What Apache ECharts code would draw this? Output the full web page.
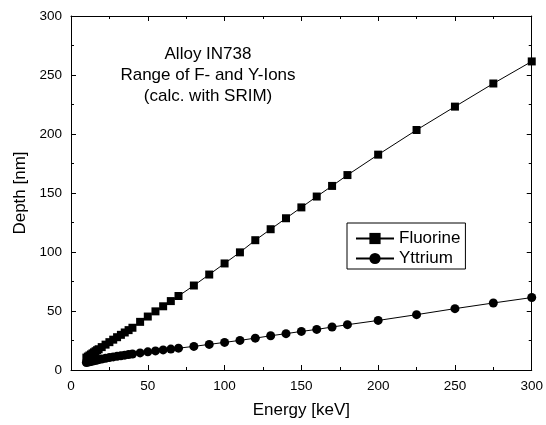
<!DOCTYPE html>
<html>
<head>
<meta charset="utf-8">
<script src="https://cdn.jsdelivr.net/npm/echarts@6/dist/echarts.min.js"></script>
<style>
  html, body { margin: 0; padding: 0; background: #fff; }
  #chart { width: 546px; height: 425px; }
</style>
</head>
<body>
<div id="chart"></div>
<script>
// Ion energies (keV) used in the SRIM range tables
const energy = [10, 11, 12, 13, 14, 15, 16, 17, 18, 20, 22.5, 25, 27.5, 30, 32.5, 35, 37.5, 40,
  45, 50, 55, 60, 65, 70, 80, 90, 100, 110, 120, 130, 140, 150, 160, 170, 180, 200, 225, 250, 275, 300];

// Projected range (nm) of fluorine ions
const fluorineDepth = [10.5, 11.4, 12.3, 13.2, 14.1, 15.0, 15.9, 16.8, 17.6, 19.4, 21.5, 23.6, 25.7, 27.8, 29.8, 31.8, 33.8, 35.8,
  40.8, 45.3, 49.7, 54.0, 58.4, 62.7, 71.6, 80.9, 90.3, 99.7, 110.0, 119.3, 128.6, 137.8, 147.0, 156.0, 165.2, 182.5, 203.4, 223.2, 242.8, 261.5];

// Projected range (nm) of yttrium ions
const yttriumDepth = [6.4, 6.7, 7.0, 7.3, 7.6, 7.9, 8.2, 8.5, 8.8, 9.3, 9.9, 10.5, 11.1, 11.6, 12.1, 12.6, 13.1, 13.6,
  14.5, 15.4, 16.2, 17.0, 17.7, 18.5, 20.0, 21.7, 23.4, 25.1, 27.0, 29.0, 30.8, 32.7, 34.4, 36.4, 38.4, 42.0, 46.9, 52.0, 56.8, 61.4];

const seriesNames = ['Fluorine', 'Yttrium'];
const noteLines = ['Alloy IN738', 'Range of F- and Y-Ions', '(calc. with SRIM)'];

const FONT = 'Liberation Sans, Arial, sans-serif';

const pair = (xs, ys) => xs.map((x, i) => [x, ys[i]]);

const chart = echarts.init(document.getElementById('chart'), null, { renderer: 'canvas' });

// Shared look of all four frame axes: ticks pointing inward, one minor tick between majors
const axisCommon = {
  type: 'value', min: 0, max: 300, interval: 50,
  axisLine: { show: true, onZero: false, lineStyle: { color: '#000', width: 1 } },
  axisTick: { show: true, inside: true, length: 5, lineStyle: { color: '#000' } },
  minorTick: { show: true, splitNumber: 2, length: 3, lineStyle: { color: '#000' } },
  splitLine: { show: false },
  minorSplitLine: { show: false }
};

const labelStyle = { fontSize: 13.5, color: '#000', margin: 9, fontFamily: FONT };
const nameStyle = { fontSize: 17, color: '#000', fontFamily: FONT };

chart.setOption({
  animation: false,
  backgroundColor: '#fff',
  textStyle: { fontFamily: FONT, color: '#000' },
  grid: { left: 71, right: 10, top: 16, bottom: 55, containLabel: false },
  xAxis: [
    Object.assign({}, axisCommon, {
      position: 'bottom',
      name: 'Energy [keV]', nameLocation: 'middle', nameGap: 32,
      nameTextStyle: nameStyle,
      axisLabel: labelStyle
    }),
    Object.assign({}, axisCommon, { position: 'top', axisLabel: { show: false } })
  ],
  yAxis: [
    Object.assign({}, axisCommon, {
      position: 'left',
      name: 'Depth [nm]', nameLocation: 'middle', nameGap: 42,
      nameTextStyle: nameStyle,
      axisLabel: labelStyle
    }),
    Object.assign({}, axisCommon, { position: 'right', axisLabel: { show: false } })
  ],
  legend: {
    data: seriesNames,
    orient: 'vertical',
    left: 347, top: 223,
    padding: [7, 5, 2, 8],
    itemGap: 3,
    itemWidth: 38, itemHeight: 14,
    borderColor: '#000', borderWidth: 1, borderRadius: 0,
    backgroundColor: '#fff',
    textStyle: { fontSize: 17, lineHeight: 14, color: '#000', fontFamily: FONT }
  },
  series: [
    {
      name: seriesNames[0], type: 'line',
      data: pair(energy, fluorineDepth),
      symbol: 'rect', symbolSize: 8,
      lineStyle: { color: '#000', width: 1 },
      itemStyle: { color: '#000' },
      z: 3
    },
    {
      name: seriesNames[1], type: 'line',
      data: pair(energy, yttriumDepth),
      symbol: 'circle', symbolSize: 9,
      lineStyle: { color: '#000', width: 1 },
      itemStyle: { color: '#000' },
      z: 3
    }
  ],
  // Three-line note, centred on a common x position
  graphic: noteLines.map((line, i) => ({
    type: 'text',
    x: 208, y: 54 + i * 21,
    style: { text: line, font: '17px ' + FONT, fill: '#000', textAlign: 'center', textVerticalAlign: 'middle' }
  }))
});
</script>
</body>
</html>
